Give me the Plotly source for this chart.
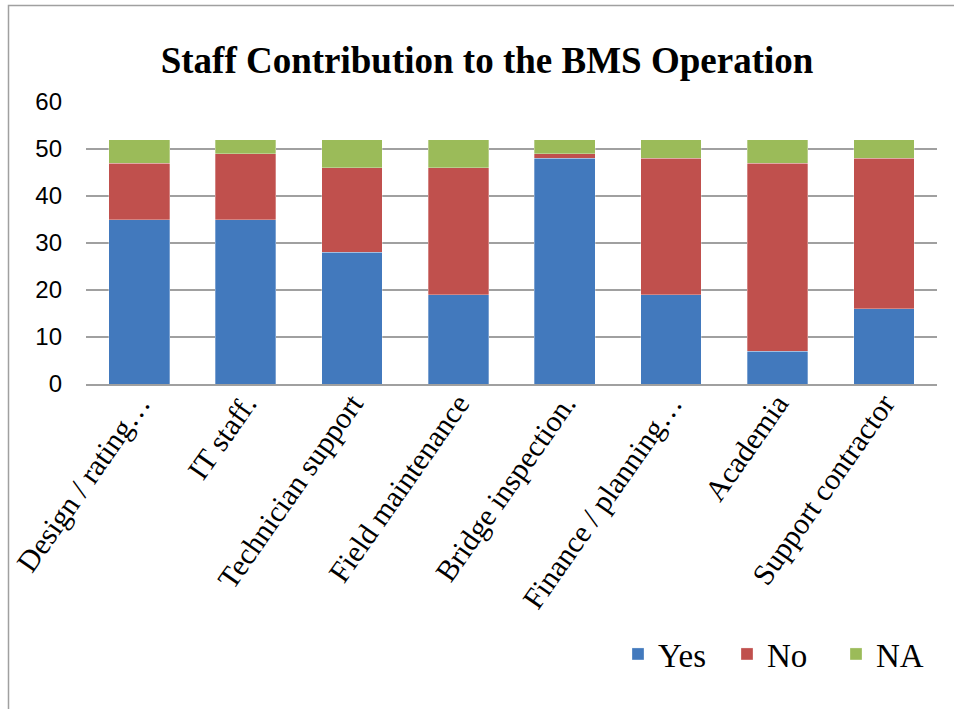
import plotly.graph_objects as go

categories = ["Design / rating…", "IT staff.", "Technician support", "Field maintenance",
              "Bridge inspection.", "Finance / planning…", "Academia", "Support contractor"]
yes_vals = [35, 35, 28, 19, 48, 19, 7, 16]
no_vals = [12, 14, 18, 27, 1, 29, 40, 32]
na_vals = [5, 3, 6, 6, 3, 4, 5, 4]
y_ticks = [0, 10, 20, 30, 40, 50, 60]

W, H = 954, 709
L, R, T, B = 86, 17, 102, 325
pw, ph = W - L - R, H - T - B

def px2paper_x(px):
    return (px - L) / pw

def px2paper_y(py):
    return (H - B - py) / ph

fig = go.Figure()
for name, vals, col in [("Yes", yes_vals, "#4279BD"), ("No", no_vals, "#C0504D"), ("NA", na_vals, "#9BBB59")]:
    fig.add_trace(go.Bar(name=name, x=categories, y=vals,
                         marker=dict(color=col, line=dict(color="rgba(255,255,255,0.6)", width=0.5))))

fig.update_layout(
    barmode="stack",
    bargap=0.43,
    width=W, height=H,
    margin=dict(l=L, r=R, t=T, b=B, autoexpand=False),
    paper_bgcolor="white",
    plot_bgcolor="white",
    title=dict(text="<b>Staff Contribution to the BMS Operation</b>",
               font=dict(family="Liberation Serif", size=37, color="black"),
               x=487 / W, xanchor="center", y=1 - 60 / H, yanchor="middle"),
    legend=dict(orientation="h", x=px2paper_x(618), y=px2paper_y(626), xanchor="left", yanchor="top",
                font=dict(family="Liberation Serif", size=33, color="black"),
                traceorder="normal", itemwidth=30, entrywidth=64, entrywidthmode="pixels",
                bgcolor="rgba(0,0,0,0)"),
    yaxis=dict(range=[0, 60], tickvals=y_ticks, showgrid=True, gridcolor="#A0A0A0", gridwidth=1.5,
               tickfont=dict(family="Liberation Sans", size=24, color="black"), automargin=False,
               zeroline=False, showline=False, ticks="", ticklen=0, ticklabelstandoff=23),
    xaxis=dict(tickangle=-55, tickfont=dict(family="Liberation Serif", size=30, color="black"),
               automargin=False, ticklabelstandoff=-12,
               showline=True, linecolor="#A0A0A0", linewidth=2, ticks=""),
    shapes=[dict(type="rect", xref="paper", yref="paper",
                 x0=px2paper_x(8.5), x1=px2paper_x(1000), y0=px2paper_y(760), y1=px2paper_y(5.5),
                 line=dict(color="#A0A0A0", width=1.5), fillcolor="rgba(0,0,0,0)", layer="below")],
)

fig.write_html("out.html", config={"displayModeBar": False},
               post_script="document.body.style.margin='0';document.body.style.overflow='hidden';")
